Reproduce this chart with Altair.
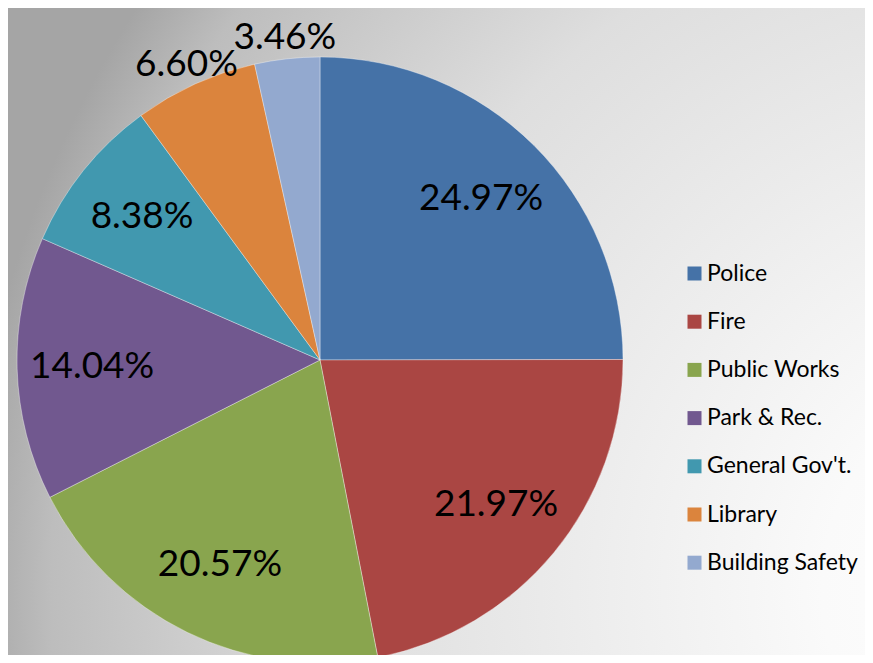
import altair as alt
import pandas as pd

categories = ["Police", "Fire", "Public Works", "Park & Rec.", "General Gov't.", "Library", "Building Safety"]
shares = [24.97, 21.97, 20.57, 14.04, 8.38, 6.60, 3.46]
colors = ["#4572A7", "#AA4643", "#89A54E", "#71588F", "#4198AF", "#DB843D", "#93A9CF"]

df = pd.DataFrame({"category": categories, "value": shares})

W, H = 857, 647
CX, CY, R = 312, 352, 303
FONT = "Lato"

base = alt.Chart(df).transform_window(
    idx="row_number()"
).transform_calculate(
    label="format(datum.value, '.2f') + '%'"
)

bg = alt.Chart(pd.DataFrame({"a": [0]})).mark_rect(
    fill=alt.RadialGradient(
        gradient="radial",
        x1=1.2, y1=0.8, r1=0,
        x2=1.2, y2=0.8, r2=1.25,
        stops=[
            alt.GradientStop(offset=0, color="#ffffff"),
            alt.GradientStop(offset=0.2, color="#fafafa"),
            alt.GradientStop(offset=0.66, color="#dedede"),
            alt.GradientStop(offset=0.92, color="#bdbdbd"),
            alt.GradientStop(offset=1, color="#a5a5a5"),
        ],
    )
).encode(
    x=alt.value(0), x2=alt.value(W), y=alt.value(0), y2=alt.value(H)
)

theta = alt.Theta("value:Q", stack=True)
order = alt.Order("idx:Q", sort="ascending")

pie = base.mark_arc(radius=R, stroke="#ffffff", strokeWidth=0.6, strokeOpacity=0.6).encode(
    theta=theta,
    order=order,
    color=alt.Color(
        "category:N",
        sort=categories,
        scale=alt.Scale(domain=categories, range=colors),
        legend=alt.Legend(
            title=None,
            orient="none",
            legendX=675,
            legendY=254,
            symbolType="square",
            symbolSize=196,
            symbolStrokeWidth=0,
            labelFont=FONT,
            labelFontSize=23,
            labelColor="#000000",
            labelOffset=1,
            labelLimit=400,
            rowPadding=24.2,
            padding=0,
        ),
    ),
    x=alt.value(CX),
    y=alt.value(CY),
)

inner = base.mark_text(radius=228, font=FONT, fontSize=37, color="#000000",
                       align="center", baseline="middle").encode(
    theta=theta,
    order=order,
    text=alt.condition("datum.value >= 7", "label:N", alt.value("")),
    x=alt.value(CX),
    y=alt.value(CY),
)

outer = base.mark_text(radius=324, font=FONT, fontSize=37, color="#000000",
                       align="center", baseline="middle").encode(
    theta=theta,
    order=order,
    text=alt.condition("datum.value < 7", "label:N", alt.value("")),
    x=alt.value(CX),
    y=alt.value(CY),
)

chart = alt.layer(bg, pie, inner, outer).properties(
    width=W, height=H, autosize=alt.AutoSizeParams(type="none"), padding=0,
    background="#a5a5a5"
).configure_view(stroke=None)

chart.save("out.html", embed_options={"renderer": "svg", "actions": False})
